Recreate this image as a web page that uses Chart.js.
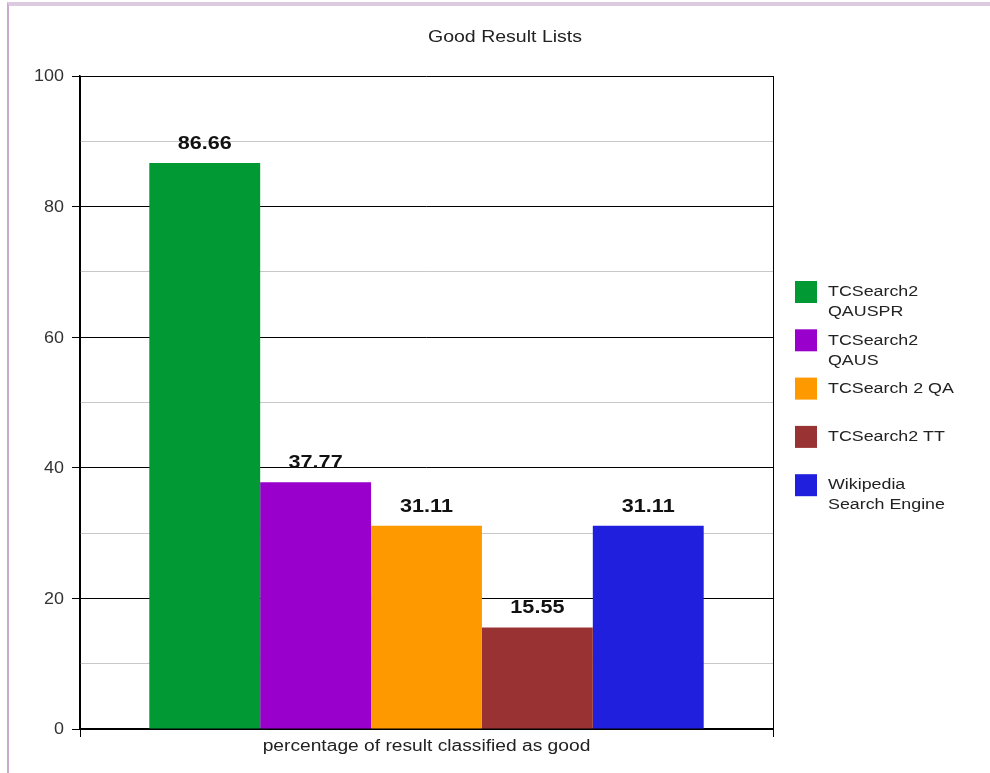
<!DOCTYPE html>
<html>
<head>
<meta charset="utf-8">
<title>Good Result Lists</title>
<script src="https://cdn.jsdelivr.net/npm/chart.js@4/dist/chart.umd.min.js"></script>
<style>
  body { margin: 0; background: #fff; }
  #frame { position: absolute; left: 7px; top: 2px; width: 990px; height: 800px;
    border-top: 4px solid #dccbe0; border-left: 2px solid #c9a9cc; }
  #goodChart { position: absolute; left: 0; top: 0; }
</style>
</head>
<body>
<div id="frame"></div>
<canvas id="goodChart" width="990" height="773"></canvas>
<script>
'use strict';

// Global variables :
var chartTitle = 'Good Result Lists';
var categories = ['percentage of result classified as good'];
var seriesNames = [
  ['TCSearch2', 'QAUSPR'],
  ['TCSearch2', 'QAUS'],
  ['TCSearch 2 QA'],
  ['TCSearch2 TT'],
  ['Wikipedia', 'Search Engine']
];
var seriesValues = [86.66, 37.77, 31.11, 15.55, 31.11];
var seriesColors = ['#009933', '#9900cc', '#ff9900', '#993333', '#1f1fdd'];
var yTicks = [0, 20, 40, 60, 80, 100];

var FONT = '"Liberation Sans", Arial, sans-serif';

// the original text looks a bit stretched sideways, so text is drawn here
function drawText(ctx, text, x, y, font, align, sx, color) {
  ctx.save();
  ctx.font = font;
  ctx.fillStyle = color;
  ctx.textAlign = align;
  ctx.textBaseline = 'middle';
  ctx.translate(x, y);
  ctx.scale(sx, 1);
  ctx.fillText(text, 0, 0);
  ctx.restore();
}

// building datasets, one per series
function makeDatasets() {
  var sets = [];
  for (var i = 0; i < seriesValues.length; i++) {
    sets.push({
      label: seriesNames[i].join(' '),
      data: [seriesValues[i]],
      backgroundColor: seriesColors[i],
      borderWidth: 0,
      categoryPercentage: 0.8,
      barPercentage: 1.0
    });
  }
  return sets;
}

// title, axis texts, value labels and legend
var extrasPlugin = {
  id: 'extras',
  afterDatasetsDraw: function(chart) {
    var ctx = chart.ctx;
    for (var i = 0; i < chart.data.datasets.length; i++) {
      var bar = chart.getDatasetMeta(i).data[0];
      drawText(ctx, seriesValues[i].toFixed(2), bar.x, bar.y - 19,
        'bold 18px ' + FONT, 'center', 1.2, '#111');
    }
  },
  afterDraw: function(chart) {
    var ctx = chart.ctx;
    var area = chart.chartArea;
    var yScale = chart.scales.y;
    var xScale = chart.scales.x;

    drawText(ctx, chartTitle, 505, 38, '16px ' + FONT, 'center', 1.22, '#222');

    for (var t = 0; t < yTicks.length; t++) {
      drawText(ctx, String(yTicks[t]), area.left - 16, yScale.getPixelForValue(yTicks[t]) + 1,
        '16px ' + FONT, 'right', 1.12, '#333');
    }

    for (var c = 0; c < categories.length; c++) {
      drawText(ctx, categories[c], xScale.getPixelForValue(c), area.bottom + 18,
        '16px ' + FONT, 'center', 1.2, '#222');
    }

    // legend
    var boxX = area.right + 22;
    var top = 281;
    for (var i = 0; i < seriesNames.length; i++) {
      var y = top + i * 48.3;
      ctx.fillStyle = seriesColors[i];
      ctx.fillRect(boxX, y, 22, 22);
      for (var j = 0; j < seriesNames[i].length; j++) {
        drawText(ctx, seriesNames[i][j], boxX + 33, y + 11 + j * 20,
          '15.5px ' + FONT, 'left', 1.15, '#222');
      }
    }
  }
};

var ctx = document.getElementById('goodChart').getContext('2d');
var goodChart = new Chart(ctx, { //eslint-disable-line
  type: 'bar',
  data: {
    labels: categories,
    datasets: makeDatasets()
  },
  options: {
    responsive: false,
    animation: false,
    layout: {
      padding: { left: 10, top: 76, right: 217, bottom: 4 }
    },
    plugins: {
      legend: { display: false },
      title: { display: false },
      tooltip: { enabled: false }
    },
    scales: {
      x: {
        offset: true,
        grid: {
          offset: true,
          color: '#000',
          lineWidth: 1,
          tickLength: 8
        },
        border: { color: '#000', width: 2 },
        ticks: { display: false },
        afterFit: function(scale) { scale.height = 40; }
      },
      y: {
        min: 0,
        max: 100,
        ticks: {
          stepSize: 10,
          autoSkip: false,
          display: false
        },
        grid: {
          color: function(c) {
            return c.tick && c.tick.value % 20 === 0 ? '#000' : '#c8c8c8';
          },
          tickColor: function(c) {
            return c.tick && c.tick.value % 20 === 0 ? '#000' : 'rgba(0,0,0,0)';
          },
          lineWidth: 1,
          tickLength: 8
        },
        border: { color: '#000', width: 1.5 },
        afterFit: function(scale) { scale.width = 70; }
      }
    }
  },
  plugins: [extrasPlugin]
});
</script>
</body>
</html>
